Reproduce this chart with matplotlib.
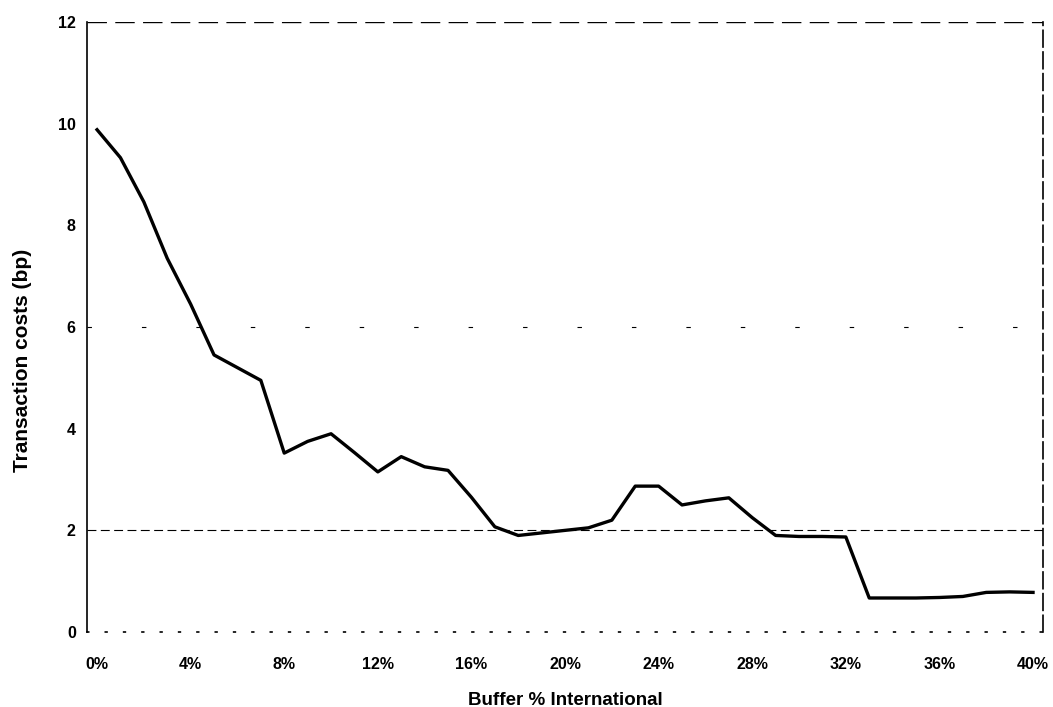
import numpy as np
import matplotlib
matplotlib.use("Agg")
from matplotlib import pyplot as plt

# buffer size (% international) and transaction costs (bp)
buffer_pct = list(range(0, 41))
cost_bp = [9.88, 9.33, 8.46, 7.35, 6.45, 5.45, 5.2, 4.95, 3.52, 3.75,
           3.9, 3.53, 3.15, 3.45, 3.25, 3.18, 2.65, 2.07, 1.9, 1.95,
           2.0, 2.05, 2.2, 2.87, 2.87, 2.5, 2.58, 2.64, 2.25, 1.9,
           1.88, 1.88, 1.87, 0.67, 0.67, 0.67, 0.68, 0.7, 0.78, 0.79,
           0.78]
x_ticks = list(range(0, 41, 4))
x_labels = ["{}%".format(v) for v in x_ticks]
y_ticks = list(range(0, 13, 2))


def main():
    plt.rcParams['font.family'] = ['Liberation Sans', 'DejaVu Sans']
    fig = plt.figure(figsize=(10.53, 7.07), dpi=100)
    ax = fig.add_axes([0.0826, 0.106, 0.908, 0.863])

    # faint, broken-looking gridlines as in the scan
    ax.axhline(2, color='black', lw=0.8, ls=(0, (8, 4)), zorder=1)
    ax.axhline(12, color='black', lw=1.0, ls=(0, (14, 6)), zorder=1)
    ax.axhline(6, color='black', lw=0.8, ls=(0, (4, 45)), zorder=1)

    ax.plot(buffer_pct, cost_bp, color='black', lw=2.4, zorder=3,
            solid_joinstyle='round')

    ax.set_xlim(-0.43, 40.43)
    ax.set_ylim(0, 12)
    ax.set_xticks(x_ticks)
    ax.set_xticklabels(x_labels)
    ax.set_yticks(y_ticks)
    ax.tick_params(axis='both', length=0, labelsize=11.5)
    ax.tick_params(axis='y', pad=8)
    ax.tick_params(axis='x', pad=18)
    for lab in ax.get_xticklabels() + ax.get_yticklabels():
        lab.set_fontweight('bold')

    ax.spines['top'].set_visible(False)
    ax.spines['left'].set_linewidth(1.2)
    ax.spines['right'].set_linestyle((0, (10, 3)))
    ax.spines['right'].set_linewidth(1.2)
    ax.spines['bottom'].set_linestyle((0, (1, 10)))
    ax.spines['bottom'].set_linewidth(1.2)

    ax.set_xlabel('Buffer % International', fontsize=13.5, fontweight='bold',
                  labelpad=14)
    ax.set_ylabel('Transaction costs (bp)', fontsize=15, fontweight='bold')
    ax.yaxis.set_label_coords(-0.057, 0.445)

    fig.savefig('out.png', dpi=100, facecolor='white')


if __name__ == "__main__":

    main()
